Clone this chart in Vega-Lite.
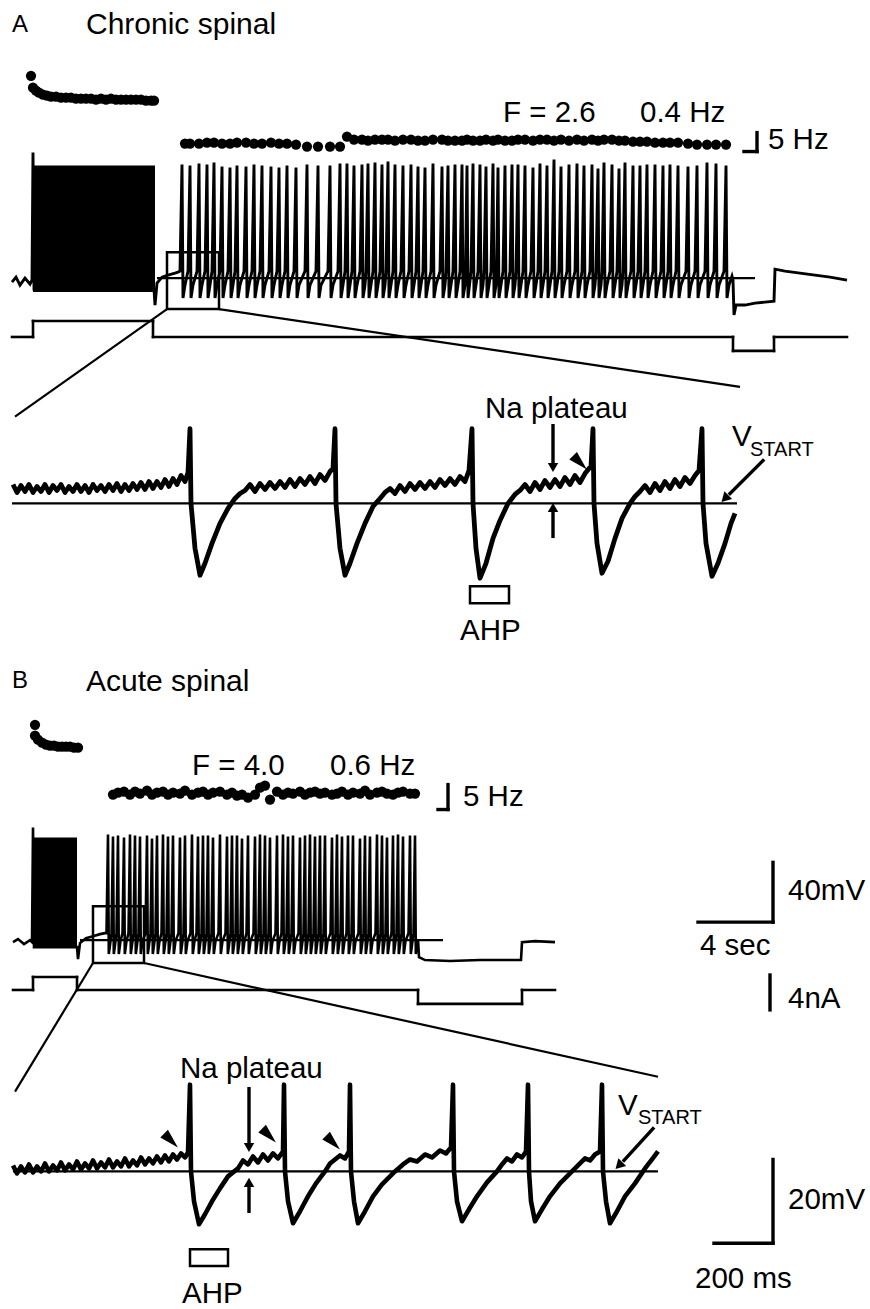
{
"$schema":"https://vega.github.io/schema/vega-lite/v6.json",
"width":870,"height":1309,"padding":0,
"autosize":{"type":"fit","contains":"padding"},
"background":"white",
"config":{"view":{"stroke":null}},
"datasets":{
"rf":[{"x":33,"y":166,"x2":155,"y2":293},{"x":33,"y":840,"x2":77,"y2":950}],
"rh":[{"x":167,"y":253,"x2":219,"y2":310},{"x":93,"y":909,"x2":144,"y2":966},{"x":470,"y":588,"x2":509,"y2":605},{"x":190,"y":1253,"x2":228,"y2":1270}],
"ru":[
{"k":"t","x":167,"y":310,"x2":15,"y2":418},{"k":"t","x":219,"y":310,"x2":740,"y2":388},{"k":"t","x":93,"y":966,"x2":15,"y2":1095},{"k":"t","x":144,"y":966,"x2":658,"y2":1080},
{"k":"t","x":157,"y":279,"x2":755,"y2":279},{"k":"t","x":12,"y":505,"x2":737,"y2":505},{"k":"t","x":80,"y":943,"x2":443,"y2":943},{"k":"t","x":13,"y":1175,"x2":658,"y2":1175},
{"k":"b","x":757,"y":133,"x2":757,"y2":152},{"k":"b","x":744,"y":152,"x2":757,"y2":152},{"k":"b","x":448,"y":787,"x2":448,"y2":812},{"k":"b","x":438,"y":812,"x2":448,"y2":812},
{"k":"b","x":773,"y":865,"x2":773,"y2":925},{"k":"b","x":698,"y":925,"x2":773,"y2":925},{"k":"b","x":770,"y":978,"x2":770,"y2":1013},{"k":"b","x":773,"y":1163,"x2":773,"y2":1247},{"k":"b","x":714,"y":1247,"x2":773,"y2":1247},
{"k":"b","x":553,"y":427,"x2":553,"y2":465},{"k":"b","x":553,"y":538,"x2":553,"y2":513},{"k":"b","x":249,"y":1092,"x2":249,"y2":1147},{"k":"b","x":249,"y":1215,"x2":249,"y2":1190},{"k":"b","x":763,"y":462,"x2":730,"y2":495},{"k":"b","x":653,"y":1132,"x2":624,"y2":1164},
{"k":"i","x":12,"y":338,"x2":33,"y2":338},{"k":"i","x":33,"y":338,"x2":33,"y2":322},{"k":"i","x":33,"y":322,"x2":153,"y2":322},{"k":"i","x":153,"y":322,"x2":153,"y2":338},{"k":"i","x":153,"y":338,"x2":733,"y2":338},{"k":"i","x":733,"y":338,"x2":733,"y2":352},{"k":"i","x":733,"y":352,"x2":774,"y2":352},{"k":"i","x":774,"y":352,"x2":774,"y2":338},{"k":"i","x":774,"y":338,"x2":847,"y2":338},
{"k":"i","x":13,"y":993,"x2":33,"y2":993},{"k":"i","x":33,"y":993,"x2":33,"y2":980},{"k":"i","x":33,"y":980,"x2":77,"y2":980},{"k":"i","x":77,"y":980,"x2":77,"y2":993},{"k":"i","x":77,"y":993,"x2":418,"y2":993},{"k":"i","x":418,"y":993,"x2":418,"y2":1007},{"k":"i","x":418,"y":1007,"x2":522,"y2":1007},{"k":"i","x":522,"y":1007,"x2":522,"y2":993},{"k":"i","x":522,"y":993,"x2":555,"y2":993}
],
"tA":[{"x":12,"y":283},{"x":16,"y":278},{"x":20,"y":286},{"x":25,"y":279},{"x":30,"y":285},{"x":32,"y":281},{"x":33,"y":153},{"x":34,"y":290},{"x":154,"y":290},{"x":155,"y":306},{"x":157,"y":284},{"x":162,"y":278},{"x":168,"y":276},{"x":175,"y":274},{"x":178,"y":273},
{"x":180,"y":272},{"x":182,"y":165},{"x":183,"y":299},{"x":185,"y":286},
{"x":188,"y":272},{"x":190,"y":166},{"x":191,"y":299},{"x":193,"y":286},
{"x":197,"y":272},{"x":199,"y":164},{"x":200,"y":299},{"x":202,"y":286},
{"x":205,"y":272},{"x":207,"y":165},{"x":208,"y":299},{"x":210,"y":286},
{"x":212,"y":272},{"x":214,"y":163},{"x":215,"y":299},{"x":217,"y":286},
{"x":220,"y":272},{"x":222,"y":167},{"x":223,"y":299},{"x":225,"y":286},
{"x":228,"y":272},{"x":230,"y":168},{"x":231,"y":299},{"x":233,"y":286},
{"x":235,"y":272},{"x":237,"y":166},{"x":238,"y":299},{"x":240,"y":286},
{"x":244,"y":272},{"x":246,"y":167},{"x":247,"y":299},{"x":249,"y":286},
{"x":252,"y":272},{"x":254,"y":165},{"x":255,"y":299},{"x":257,"y":286},
{"x":260,"y":272},{"x":262,"y":166},{"x":263,"y":299},{"x":265,"y":286},
{"x":269,"y":272},{"x":271,"y":167},{"x":272,"y":299},{"x":274,"y":286},
{"x":277,"y":272},{"x":279,"y":168},{"x":280,"y":299},{"x":282,"y":286},
{"x":285,"y":272},{"x":287,"y":166},{"x":288,"y":299},{"x":290,"y":286},
{"x":294,"y":272},{"x":296,"y":168},{"x":297,"y":299},{"x":299,"y":286},
{"x":305,"y":272},{"x":307,"y":165},{"x":308,"y":299},{"x":310,"y":286},
{"x":316,"y":272},{"x":318,"y":166},{"x":319,"y":299},{"x":321,"y":286},
{"x":328,"y":272},{"x":330,"y":166},{"x":331,"y":299},{"x":333,"y":286},
{"x":338,"y":272},{"x":340,"y":164},{"x":341,"y":299},{"x":343,"y":286},
{"x":345,"y":272},{"x":347,"y":164},{"x":348,"y":299},{"x":350,"y":286},
{"x":352,"y":272},{"x":354,"y":166},{"x":355,"y":299},{"x":357,"y":286},
{"x":360,"y":272},{"x":362,"y":165},{"x":363,"y":299},{"x":365,"y":286},
{"x":366,"y":272},{"x":368,"y":164},{"x":369,"y":299},{"x":371,"y":286},
{"x":373,"y":272},{"x":375,"y":163},{"x":376,"y":299},{"x":378,"y":286},
{"x":380,"y":272},{"x":382,"y":165},{"x":383,"y":299},{"x":385,"y":286},
{"x":386,"y":272},{"x":388,"y":162},{"x":389,"y":299},{"x":391,"y":286},
{"x":393,"y":272},{"x":395,"y":165},{"x":396,"y":299},{"x":398,"y":286},
{"x":401,"y":272},{"x":403,"y":166},{"x":404,"y":299},{"x":406,"y":286},
{"x":409,"y":272},{"x":411,"y":165},{"x":412,"y":299},{"x":414,"y":286},
{"x":416,"y":272},{"x":418,"y":167},{"x":419,"y":299},{"x":421,"y":286},
{"x":423,"y":272},{"x":425,"y":168},{"x":426,"y":299},{"x":428,"y":286},
{"x":431,"y":272},{"x":433,"y":164},{"x":434,"y":299},{"x":436,"y":286},
{"x":440,"y":272},{"x":442,"y":167},{"x":443,"y":299},{"x":445,"y":286},
{"x":446,"y":272},{"x":448,"y":166},{"x":449,"y":299},{"x":451,"y":286},
{"x":453,"y":272},{"x":455,"y":165},{"x":456,"y":299},{"x":458,"y":286},
{"x":460,"y":272},{"x":462,"y":165},{"x":463,"y":299},{"x":465,"y":286},
{"x":465.5,"y":272},{"x":467,"y":166},{"x":468,"y":299},{"x":469.5,"y":286},
{"x":471,"y":272},{"x":473,"y":164},{"x":474,"y":299},{"x":476,"y":286},
{"x":478,"y":272},{"x":480,"y":165},{"x":481,"y":299},{"x":483,"y":286},
{"x":484,"y":272},{"x":486,"y":167},{"x":487,"y":299},{"x":489,"y":286},
{"x":491,"y":272},{"x":493,"y":164},{"x":494,"y":299},{"x":496,"y":286},
{"x":496.5,"y":272},{"x":498,"y":168},{"x":499,"y":299},{"x":501,"y":286},
{"x":503,"y":272},{"x":505,"y":166},{"x":506,"y":299},{"x":508,"y":286},
{"x":510,"y":272},{"x":512,"y":165},{"x":513,"y":299},{"x":515,"y":286},
{"x":516,"y":272},{"x":518,"y":165},{"x":519,"y":299},{"x":521,"y":286},
{"x":523,"y":272},{"x":525,"y":166},{"x":526,"y":299},{"x":528,"y":286},
{"x":531,"y":272},{"x":533,"y":168},{"x":534,"y":299},{"x":536,"y":286},
{"x":538,"y":272},{"x":540,"y":164},{"x":541,"y":299},{"x":543,"y":286},
{"x":545,"y":272},{"x":547,"y":166},{"x":548,"y":299},{"x":550,"y":286},
{"x":552,"y":272},{"x":554,"y":160},{"x":555,"y":299},{"x":557,"y":286},
{"x":559,"y":272},{"x":561,"y":167},{"x":562,"y":299},{"x":564,"y":286},
{"x":567,"y":272},{"x":569,"y":165},{"x":570,"y":299},{"x":572,"y":286},
{"x":575,"y":272},{"x":577,"y":164},{"x":578,"y":299},{"x":580,"y":286},
{"x":582,"y":272},{"x":584,"y":166},{"x":585,"y":299},{"x":587,"y":286},
{"x":590,"y":272},{"x":592,"y":165},{"x":593,"y":299},{"x":595,"y":286},
{"x":596,"y":272},{"x":598,"y":169},{"x":599,"y":299},{"x":601,"y":286},
{"x":602,"y":272},{"x":604,"y":163},{"x":605,"y":299},{"x":607,"y":286},
{"x":610,"y":272},{"x":612,"y":165},{"x":613,"y":299},{"x":615,"y":286},
{"x":617,"y":272},{"x":619,"y":169},{"x":620,"y":299},{"x":622,"y":286},
{"x":623,"y":272},{"x":625,"y":163},{"x":626,"y":299},{"x":628,"y":286},
{"x":631,"y":272},{"x":633,"y":166},{"x":634,"y":299},{"x":636,"y":286},
{"x":638,"y":272},{"x":640,"y":166},{"x":641,"y":299},{"x":643,"y":286},
{"x":645,"y":272},{"x":647,"y":165},{"x":648,"y":299},{"x":650,"y":286},
{"x":653,"y":272},{"x":655,"y":165},{"x":656,"y":299},{"x":658,"y":286},
{"x":661,"y":272},{"x":663,"y":166},{"x":664,"y":299},{"x":666,"y":286},
{"x":668,"y":272},{"x":670,"y":165},{"x":671,"y":299},{"x":673,"y":286},
{"x":676,"y":272},{"x":678,"y":166},{"x":679,"y":299},{"x":681,"y":286},
{"x":686,"y":272},{"x":688,"y":167},{"x":689,"y":299},{"x":691,"y":286},
{"x":695,"y":272},{"x":697,"y":166},{"x":698,"y":299},{"x":700,"y":286},
{"x":705,"y":272},{"x":707,"y":163},{"x":708,"y":299},{"x":710,"y":286},
{"x":714,"y":272},{"x":716,"y":164},{"x":717,"y":299},{"x":719,"y":286},
{"x":724,"y":272},{"x":726,"y":166},{"x":727,"y":299},{"x":729,"y":286},
{"x":732,"y":277},{"x":733,"y":281},{"x":734,"y":316},{"x":736,"y":306},{"x":745,"y":306},{"x":755,"y":304},{"x":765,"y":303},{"x":774,"y":302},{"x":775,"y":270},{"x":785,"y":272},{"x":800,"y":274},{"x":815,"y":276},{"x":830,"y":278},{"x":847,"y":281}],
"tB":[{"x":13,"y":945},{"x":18,"y":942},{"x":24,"y":947},{"x":30,"y":943},{"x":32,"y":945},{"x":33,"y":830},{"x":34,"y":950},{"x":77,"y":950},{"x":78,"y":962},{"x":80,"y":946},{"x":86,"y":941},{"x":93,"y":939},{"x":100,"y":937},{"x":105,"y":936},
{"x":106.5,"y":936},{"x":108,"y":837},{"x":108.8,"y":957},{"x":110.5,"y":944},
{"x":111.5,"y":936},{"x":113,"y":839},{"x":113.8,"y":957},{"x":115.5,"y":944},
{"x":116.5,"y":936},{"x":118,"y":838},{"x":118.8,"y":957},{"x":120.5,"y":944},
{"x":122.5,"y":936},{"x":124,"y":840},{"x":124.8,"y":957},{"x":126.5,"y":944},
{"x":128.5,"y":936},{"x":130,"y":837},{"x":130.8,"y":957},{"x":132.5,"y":944},
{"x":133.5,"y":936},{"x":135,"y":838},{"x":135.8,"y":957},{"x":137.5,"y":944},
{"x":138.5,"y":936},{"x":140,"y":839},{"x":140.8,"y":957},{"x":142.5,"y":944},
{"x":145.5,"y":936},{"x":147,"y":838},{"x":147.8,"y":957},{"x":149.5,"y":944},
{"x":150.5,"y":936},{"x":152,"y":841},{"x":152.8,"y":957},{"x":154.5,"y":944},
{"x":155.5,"y":936},{"x":157,"y":838},{"x":157.8,"y":957},{"x":159.5,"y":944},
{"x":161.5,"y":936},{"x":163,"y":837},{"x":163.8,"y":957},{"x":165.5,"y":944},
{"x":166.5,"y":936},{"x":168,"y":839},{"x":168.8,"y":957},{"x":170.5,"y":944},
{"x":171.5,"y":936},{"x":173,"y":838},{"x":173.8,"y":957},{"x":175.5,"y":944},
{"x":178.5,"y":936},{"x":180,"y":840},{"x":180.8,"y":957},{"x":182.5,"y":944},
{"x":183.5,"y":936},{"x":185,"y":838},{"x":185.8,"y":957},{"x":187.5,"y":944},
{"x":190.5,"y":936},{"x":192,"y":837},{"x":192.8,"y":957},{"x":194.5,"y":944},
{"x":196.5,"y":936},{"x":198,"y":839},{"x":198.8,"y":957},{"x":200.5,"y":944},
{"x":201.5,"y":936},{"x":203,"y":838},{"x":203.8,"y":957},{"x":205.5,"y":944},
{"x":206.5,"y":936},{"x":208,"y":838},{"x":208.8,"y":957},{"x":210.5,"y":944},
{"x":211.5,"y":936},{"x":213,"y":840},{"x":213.8,"y":957},{"x":215.5,"y":944},
{"x":218.5,"y":936},{"x":220,"y":837},{"x":220.8,"y":957},{"x":222.5,"y":944},
{"x":225.5,"y":936},{"x":227,"y":839},{"x":227.8,"y":957},{"x":229.5,"y":944},
{"x":230.5,"y":936},{"x":232,"y":838},{"x":232.8,"y":957},{"x":234.5,"y":944},
{"x":235.5,"y":936},{"x":237,"y":838},{"x":237.8,"y":957},{"x":239.5,"y":944},
{"x":240.5,"y":936},{"x":242,"y":841},{"x":242.8,"y":957},{"x":244.5,"y":944},
{"x":246.5,"y":936},{"x":248,"y":838},{"x":248.8,"y":957},{"x":250.5,"y":944},
{"x":253.5,"y":936},{"x":255,"y":839},{"x":255.8,"y":957},{"x":257.5,"y":944},
{"x":258.5,"y":936},{"x":260,"y":837},{"x":260.8,"y":957},{"x":262.5,"y":944},
{"x":263.5,"y":936},{"x":265,"y":838},{"x":265.8,"y":957},{"x":267.5,"y":944},
{"x":268.5,"y":936},{"x":270,"y":840},{"x":270.8,"y":957},{"x":272.5,"y":944},
{"x":275.5,"y":936},{"x":277,"y":838},{"x":277.8,"y":957},{"x":279.5,"y":944},
{"x":281.5,"y":936},{"x":283,"y":837},{"x":283.8,"y":957},{"x":285.5,"y":944},
{"x":286.5,"y":936},{"x":288,"y":839},{"x":288.8,"y":957},{"x":290.5,"y":944},
{"x":291.5,"y":936},{"x":293,"y":838},{"x":293.8,"y":957},{"x":295.5,"y":944},
{"x":298.5,"y":936},{"x":300,"y":840},{"x":300.8,"y":957},{"x":302.5,"y":944},
{"x":303.5,"y":936},{"x":305,"y":838},{"x":305.8,"y":957},{"x":307.5,"y":944},
{"x":308.5,"y":936},{"x":310,"y":837},{"x":310.8,"y":957},{"x":312.5,"y":944},
{"x":313.5,"y":936},{"x":315,"y":839},{"x":315.8,"y":957},{"x":317.5,"y":944},
{"x":318.5,"y":936},{"x":320,"y":838},{"x":320.8,"y":957},{"x":322.5,"y":944},
{"x":323.5,"y":936},{"x":325,"y":838},{"x":325.8,"y":957},{"x":327.5,"y":944},
{"x":330.5,"y":936},{"x":332,"y":840},{"x":332.8,"y":957},{"x":334.5,"y":944},
{"x":335.5,"y":936},{"x":337,"y":837},{"x":337.8,"y":957},{"x":339.5,"y":944},
{"x":340.5,"y":936},{"x":342,"y":839},{"x":342.8,"y":957},{"x":344.5,"y":944},
{"x":346.5,"y":936},{"x":348,"y":838},{"x":348.8,"y":957},{"x":350.5,"y":944},
{"x":351.5,"y":936},{"x":353,"y":838},{"x":353.8,"y":957},{"x":355.5,"y":944},
{"x":358.5,"y":936},{"x":360,"y":841},{"x":360.8,"y":957},{"x":362.5,"y":944},
{"x":363.5,"y":936},{"x":365,"y":838},{"x":365.8,"y":957},{"x":367.5,"y":944},
{"x":368.5,"y":936},{"x":370,"y":839},{"x":370.8,"y":957},{"x":372.5,"y":944},
{"x":375.5,"y":936},{"x":377,"y":837},{"x":377.8,"y":957},{"x":379.5,"y":944},
{"x":380.5,"y":936},{"x":382,"y":838},{"x":382.8,"y":957},{"x":384.5,"y":944},
{"x":385.5,"y":936},{"x":387,"y":840},{"x":387.8,"y":957},{"x":389.5,"y":944},
{"x":391.5,"y":936},{"x":393,"y":838},{"x":393.8,"y":957},{"x":395.5,"y":944},
{"x":396.5,"y":936},{"x":398,"y":837},{"x":398.8,"y":957},{"x":400.5,"y":944},
{"x":401.5,"y":936},{"x":403,"y":839},{"x":403.8,"y":957},{"x":405.5,"y":944},
{"x":408.5,"y":936},{"x":410,"y":838},{"x":410.8,"y":957},{"x":412.5,"y":944},
{"x":413.5,"y":936},{"x":415,"y":838},{"x":415.8,"y":957},{"x":417.5,"y":944},
{"x":418,"y":942},{"x":419,"y":960},{"x":425,"y":963},{"x":450,"y":964},{"x":480,"y":963},{"x":521,"y":963},{"x":522,"y":945},{"x":535,"y":944},{"x":555,"y":945}],
"zA":[{"x":13,"y":486},{"x":17,"y":494},{"x":21,"y":487},{"x":25,"y":493},{"x":29,"y":486},{"x":33,"y":494},{"x":37,"y":488},{"x":41,"y":493},{"x":45,"y":486},{"x":49,"y":494},{"x":53,"y":487},{"x":57,"y":492},{"x":61,"y":486},{"x":65,"y":494},{"x":69,"y":488},{"x":73,"y":493},{"x":77,"y":486},{"x":81,"y":493},{"x":85,"y":487},{"x":89,"y":494},{"x":93,"y":486},{"x":97,"y":492},{"x":101,"y":487},{"x":105,"y":493},{"x":109,"y":486},{"x":113,"y":492},{"x":117,"y":485},{"x":121,"y":493},{"x":125,"y":486},{"x":129,"y":492},{"x":133,"y":485},{"x":137,"y":491},{"x":141,"y":484},{"x":145,"y":491},{"x":149,"y":483},{"x":153,"y":490},{"x":157,"y":483},{"x":161,"y":489},{"x":165,"y":481},{"x":169,"y":488},{"x":173,"y":480},{"x":177,"y":486},{"x":181,"y":477},{"x":185,"y":483},{"x":188,"y":474},
{"x":190,"y":430},{"x":191,"y":505},{"x":195,"y":550},{"x":200,"y":577},{"x":205,"y":565},{"x":212,"y":545},{"x":220,"y":525},{"x":228,"y":510},{"x":235,"y":500},{"x":240,"y":495},{"x":245,"y":492},{"x":250,"y":486},{"x":255,"y":493},{"x":260,"y":485},{"x":265,"y":491},{"x":270,"y":484},{"x":275,"y":490},{"x":280,"y":483},{"x":285,"y":489},{"x":290,"y":481},{"x":295,"y":488},{"x":300,"y":480},{"x":305,"y":486},{"x":310,"y":478},{"x":315,"y":485},{"x":320,"y":476},{"x":325,"y":482},{"x":330,"y":473},{"x":333,"y":470},
{"x":335,"y":430},{"x":336,"y":505},{"x":340,"y":550},{"x":345,"y":577},{"x":350,"y":565},{"x":357,"y":545},{"x":365,"y":525},{"x":373,"y":508},{"x":380,"y":500},{"x":385,"y":494},{"x":390,"y":490},{"x":395,"y":495},{"x":400,"y":487},{"x":405,"y":493},{"x":410,"y":485},{"x":415,"y":491},{"x":420,"y":484},{"x":425,"y":490},{"x":430,"y":483},{"x":435,"y":489},{"x":440,"y":481},{"x":445,"y":487},{"x":450,"y":480},{"x":455,"y":486},{"x":460,"y":478},{"x":465,"y":483},{"x":469,"y":472},
{"x":472,"y":430},{"x":473,"y":505},{"x":476,"y":550},{"x":480,"y":580},{"x":486,"y":565},{"x":493,"y":540},{"x":500,"y":522},{"x":508,"y":505},{"x":515,"y":496},{"x":520,"y":492},{"x":525,"y":486},{"x":530,"y":493},{"x":535,"y":484},{"x":540,"y":491},{"x":545,"y":482},{"x":550,"y":489},{"x":555,"y":481},{"x":560,"y":488},{"x":565,"y":479},{"x":570,"y":486},{"x":575,"y":477},{"x":580,"y":484},{"x":585,"y":475},{"x":589,"y":470},{"x":591,"y":468},
{"x":593,"y":430},{"x":594,"y":505},{"x":597,"y":545},{"x":602,"y":575},{"x":608,"y":563},{"x":615,"y":540},{"x":622,"y":520},{"x":630,"y":505},{"x":635,"y":498},{"x":640,"y":493},{"x":645,"y":487},{"x":650,"y":494},{"x":655,"y":485},{"x":660,"y":492},{"x":665,"y":483},{"x":670,"y":490},{"x":675,"y":481},{"x":680,"y":488},{"x":685,"y":479},{"x":690,"y":485},{"x":695,"y":477},{"x":699,"y":472},
{"x":702,"y":430},{"x":703,"y":505},{"x":706,"y":545},{"x":712,"y":578},{"x":718,"y":565},{"x":725,"y":545},{"x":731,"y":525},{"x":735,"y":515}],
"zB":[{"x":13,"y":1169},{"x":17,"y":1177},{"x":21,"y":1170},{"x":25,"y":1176},{"x":29,"y":1168},{"x":33,"y":1176},{"x":37,"y":1170},{"x":41,"y":1175},{"x":45,"y":1167},{"x":49,"y":1175},{"x":53,"y":1169},{"x":57,"y":1174},{"x":61,"y":1166},{"x":65,"y":1174},{"x":69,"y":1168},{"x":73,"y":1173},{"x":77,"y":1165},{"x":81,"y":1173},{"x":85,"y":1167},{"x":89,"y":1172},{"x":93,"y":1164},{"x":97,"y":1172},{"x":101,"y":1166},{"x":105,"y":1171},{"x":109,"y":1163},{"x":113,"y":1171},{"x":117,"y":1165},{"x":121,"y":1170},{"x":125,"y":1162},{"x":129,"y":1170},{"x":133,"y":1164},{"x":137,"y":1169},{"x":141,"y":1161},{"x":145,"y":1168},{"x":149,"y":1162},{"x":153,"y":1167},{"x":157,"y":1160},{"x":161,"y":1166},{"x":165,"y":1159},{"x":169,"y":1165},{"x":173,"y":1158},{"x":177,"y":1163},{"x":181,"y":1157},{"x":185,"y":1161},{"x":188,"y":1156},
{"x":190,"y":1088},{"x":191,"y":1175},{"x":194,"y":1205},{"x":199,"y":1228},{"x":205,"y":1218},{"x":212,"y":1205},{"x":220,"y":1192},{"x":228,"y":1180},{"x":238,"y":1172},{"x":243,"y":1164},{"x":248,"y":1168},{"x":253,"y":1160},{"x":258,"y":1166},{"x":263,"y":1158},{"x":268,"y":1164},{"x":273,"y":1157},{"x":278,"y":1162},{"x":283,"y":1155},
{"x":284,"y":1088},{"x":285,"y":1175},{"x":288,"y":1205},{"x":293,"y":1227},{"x":300,"y":1215},{"x":308,"y":1200},{"x":316,"y":1187},{"x":325,"y":1175},{"x":330,"y":1167},{"x":335,"y":1163},{"x":340,"y":1159},{"x":345,"y":1162},{"x":349,"y":1155},
{"x":350,"y":1088},{"x":351,"y":1175},{"x":354,"y":1205},{"x":358,"y":1227},{"x":365,"y":1215},{"x":373,"y":1200},{"x":382,"y":1188},{"x":395,"y":1175},{"x":403,"y":1168},{"x":410,"y":1163},{"x":417,"y":1165},{"x":425,"y":1158},{"x":432,"y":1161},{"x":440,"y":1154},{"x":446,"y":1157},{"x":451,"y":1151},
{"x":453,"y":1088},{"x":454,"y":1175},{"x":457,"y":1205},{"x":462,"y":1225},{"x":469,"y":1213},{"x":477,"y":1200},{"x":487,"y":1186},{"x":497,"y":1175},{"x":502,"y":1168},{"x":507,"y":1162},{"x":512,"y":1165},{"x":517,"y":1158},{"x":522,"y":1161},{"x":526,"y":1155},
{"x":528,"y":1088},{"x":529,"y":1175},{"x":531,"y":1205},{"x":535,"y":1225},{"x":542,"y":1213},{"x":550,"y":1200},{"x":560,"y":1187},{"x":572,"y":1175},{"x":579,"y":1168},{"x":585,"y":1162},{"x":590,"y":1164},{"x":595,"y":1158},{"x":600,"y":1155},
{"x":602,"y":1088},{"x":603,"y":1175},{"x":606,"y":1205},{"x":610,"y":1227},{"x":617,"y":1215},{"x":625,"y":1200},{"x":635,"y":1187},{"x":645,"y":1172},{"x":652,"y":1163},{"x":658,"y":1155}],
"dt":[{"x":31,"y":76},{"x":33,"y":88},{"x":36,"y":91},{"x":39,"y":93},{"x":43,"y":95},{"x":47,"y":96},{"x":51,"y":97},{"x":56,"y":97},{"x":61,"y":98},{"x":66,"y":98},{"x":71,"y":98},{"x":76,"y":99},{"x":81,"y":99},{"x":86,"y":99},{"x":91,"y":99},{"x":96,"y":100},{"x":101,"y":99},{"x":106,"y":100},{"x":111,"y":99},{"x":116,"y":100},{"x":121,"y":100},{"x":126,"y":100},{"x":131,"y":100},{"x":136,"y":100},{"x":141,"y":100},{"x":146,"y":101},{"x":151,"y":101},{"x":154,"y":101},
{"x":185,"y":144},{"x":190,"y":144},{"x":199,"y":144},{"x":207,"y":143},{"x":214,"y":143},{"x":222,"y":144},{"x":230,"y":144},{"x":237,"y":143},{"x":246,"y":143},{"x":254,"y":144},{"x":262,"y":144},{"x":271,"y":143},{"x":279,"y":144},{"x":287,"y":144},{"x":296,"y":145},{"x":307,"y":147},{"x":318,"y":147},{"x":330,"y":147},{"x":340,"y":147},{"x":347,"y":137},{"x":354,"y":140},{"x":362,"y":140},{"x":368,"y":141},{"x":375,"y":140},{"x":382,"y":140},{"x":388,"y":140},{"x":395,"y":141},{"x":403,"y":140},{"x":411,"y":140},{"x":418,"y":141},{"x":425,"y":141},{"x":433,"y":140},{"x":442,"y":140},{"x":448,"y":141},{"x":455,"y":141},{"x":462,"y":141},{"x":467,"y":140},{"x":473,"y":141},{"x":480,"y":141},{"x":486,"y":140},{"x":493,"y":141},{"x":498,"y":140},{"x":505,"y":141},{"x":512,"y":141},{"x":518,"y":140},{"x":525,"y":140},{"x":533,"y":141},{"x":540,"y":140},{"x":547,"y":140},{"x":554,"y":141},{"x":561,"y":140},{"x":569,"y":141},{"x":577,"y":140},{"x":584,"y":141},{"x":592,"y":140},{"x":598,"y":141},{"x":604,"y":140},{"x":612,"y":140},{"x":619,"y":141},{"x":625,"y":141},{"x":633,"y":142},{"x":640,"y":142},{"x":647,"y":142},{"x":655,"y":143},{"x":663,"y":143},{"x":670,"y":143},{"x":678,"y":143},{"x":688,"y":144},{"x":697,"y":145},{"x":707,"y":145},{"x":716,"y":145},{"x":726,"y":145},
{"x":35,"y":727},{"x":35,"y":738},{"x":38,"y":742},{"x":42,"y":745},{"x":46,"y":747},{"x":50,"y":748},{"x":54,"y":748},{"x":58,"y":749},{"x":62,"y":749},{"x":66,"y":749},{"x":70,"y":749},{"x":74,"y":750},{"x":78,"y":750},
{"x":113,"y":797},{"x":118,"y":795},{"x":124,"y":794},{"x":130,"y":797},{"x":135,"y":794},{"x":140,"y":796},{"x":147,"y":793},{"x":152,"y":797},{"x":157,"y":795},{"x":163,"y":794},{"x":168,"y":797},{"x":173,"y":795},{"x":180,"y":796},{"x":185,"y":793},{"x":192,"y":797},{"x":198,"y":795},{"x":203,"y":794},{"x":208,"y":797},{"x":213,"y":795},{"x":220,"y":794},{"x":227,"y":797},{"x":232,"y":795},{"x":237,"y":798},{"x":242,"y":797},{"x":248,"y":800},{"x":255,"y":797},{"x":260,"y":790},{"x":265,"y":788},{"x":270,"y":802},{"x":277,"y":794},{"x":283,"y":797},{"x":288,"y":795},{"x":293,"y":796},{"x":300,"y":794},{"x":305,"y":797},{"x":310,"y":795},{"x":315,"y":794},{"x":320,"y":796},{"x":325,"y":795},{"x":332,"y":797},{"x":337,"y":796},{"x":342,"y":794},{"x":348,"y":797},{"x":353,"y":795},{"x":360,"y":796},{"x":365,"y":793},{"x":370,"y":797},{"x":377,"y":795},{"x":382,"y":794},{"x":387,"y":796},{"x":393,"y":797},{"x":398,"y":795},{"x":403,"y":794},{"x":410,"y":796},{"x":415,"y":796}],
"hd":[{"k":"dn","x":553,"y":469},{"k":"dn","x":249,"y":1151},{"k":"up","x":553,"y":509},{"k":"up","x":249,"y":1186},{"k":"va","x":726,"y":499},{"k":"va","x":620,"y":1168},{"k":"wg","x":580,"y":464},{"k":"wg","x":171,"y":1144},{"k":"wg","x":269,"y":1139},{"k":"wg","x":333,"y":1146}],
"tx":[{"k":"T","t":"Chronic spinal","x":86,"y":34},{"k":"L","t":"F = 2.6","x":503,"y":122},{"k":"L","t":"0.4 Hz","x":640,"y":122},{"k":"L","t":"5 Hz","x":768,"y":149},{"k":"L","t":"Na plateau","x":485,"y":419},{"k":"L","t":"V","x":732,"y":447},{"k":"L","t":"AHP","x":460,"y":642},{"k":"T","t":"Acute spinal","x":86,"y":693},{"k":"L","t":"F = 4.0","x":192,"y":777},{"k":"L","t":"0.6 Hz","x":330,"y":777},{"k":"L","t":"5 Hz","x":463,"y":808},{"k":"L","t":"40mV","x":788,"y":903},{"k":"L","t":"4 sec","x":700,"y":958},{"k":"L","t":"4nA","x":788,"y":1011},{"k":"L","t":"Na plateau","x":180,"y":1081},{"k":"L","t":"V","x":618,"y":1118},{"k":"L","t":"20mV","x":788,"y":1213},{"k":"L","t":"AHP","x":182,"y":1307},{"k":"L","t":"200 ms","x":695,"y":1292},
{"k":"P","t":"A","x":12,"y":32},{"k":"P","t":"B","x":12,"y":690},{"k":"S","t":"START","x":750,"y":457},{"k":"S","t":"START","x":638,"y":1127}]
},
"encoding":{
"x":{"field":"x","type":"quantitative","scale":{"domain":[0,870],"nice":false,"zero":false},"axis":null},
"y":{"field":"y","type":"quantitative","scale":{"domain":[0,1309],"reverse":true,"nice":false,"zero":false},"axis":null}
},
"layer":[
{"data":{"name":"rf"},"mark":{"type":"rect","color":"black"},"encoding":{"x2":{"field":"x2"},"y2":{"field":"y2"}}},
{"data":{"name":"rh"},"mark":{"type":"rect","filled":false,"color":"black","strokeWidth":2.5},"encoding":{"x2":{"field":"x2"},"y2":{"field":"y2"}}},
{"data":{"name":"ru"},"transform":[{"filter":"datum.k=='t'"}],"mark":{"type":"rule","color":"black","strokeWidth":2.2},"encoding":{"x2":{"field":"x2"},"y2":{"field":"y2"}}},
{"data":{"name":"ru"},"transform":[{"filter":"datum.k=='b'"}],"mark":{"type":"rule","color":"black","strokeWidth":3.4,"strokeCap":"square"},"encoding":{"x2":{"field":"x2"},"y2":{"field":"y2"}}},
{"data":{"name":"ru"},"transform":[{"filter":"datum.k=='i'"}],"mark":{"type":"rule","color":"black","strokeWidth":2.6,"strokeCap":"square"},"encoding":{"x2":{"field":"x2"},"y2":{"field":"y2"}}},
{"data":{"name":"tA"},"mark":{"type":"line","color":"black","strokeWidth":2.9}},
{"data":{"name":"tB"},"mark":{"type":"line","color":"black","strokeWidth":2.6}},
{"data":{"name":"zA"},"mark":{"type":"line","color":"black","strokeWidth":4.8,"strokeJoin":"round"}},
{"data":{"name":"zB"},"mark":{"type":"line","color":"black","strokeWidth":4.6,"strokeJoin":"round"}},
{"data":{"name":"dt"},"mark":{"type":"point","filled":true,"color":"black","opacity":1,"size":105,"shape":"circle"}},
{"data":{"name":"hd"},"transform":[{"filter":"datum.k=='dn'"}],"mark":{"type":"point","filled":true,"color":"black","opacity":1,"size":110,"shape":"triangle-down"}},
{"data":{"name":"hd"},"transform":[{"filter":"datum.k=='up'"}],"mark":{"type":"point","filled":true,"color":"black","opacity":1,"size":110,"shape":"triangle-up"}},
{"data":{"name":"hd"},"transform":[{"filter":"datum.k=='va'"}],"mark":{"type":"point","filled":true,"color":"black","opacity":1,"size":120,"shape":"triangle","angle":225}},
{"data":{"name":"hd"},"transform":[{"filter":"datum.k=='wg'"}],"mark":{"type":"point","filled":true,"color":"black","opacity":1,"size":380,"shape":"M -0.55 -1 L 0.55 -1 L 0 1 Z","angle":315}},
{"data":{"name":"tx"},"transform":[{"filter":"datum.k=='T'"}],"mark":{"type":"text","align":"left","baseline":"alphabetic","font":"Liberation Sans","fontSize":30,"color":"black"},"encoding":{"text":{"field":"t"}}},
{"data":{"name":"tx"},"transform":[{"filter":"datum.k=='L'"}],"mark":{"type":"text","align":"left","baseline":"alphabetic","font":"Liberation Sans","fontSize":29.5,"color":"black"},"encoding":{"text":{"field":"t"}}},
{"data":{"name":"tx"},"transform":[{"filter":"datum.k=='P'"}],"mark":{"type":"text","align":"left","baseline":"alphabetic","font":"Liberation Sans","fontSize":24,"color":"black"},"encoding":{"text":{"field":"t"}}},
{"data":{"name":"tx"},"transform":[{"filter":"datum.k=='S'"}],"mark":{"type":"text","align":"left","baseline":"alphabetic","font":"Liberation Sans","fontSize":20,"color":"black"},"encoding":{"text":{"field":"t"}}}
]
}
